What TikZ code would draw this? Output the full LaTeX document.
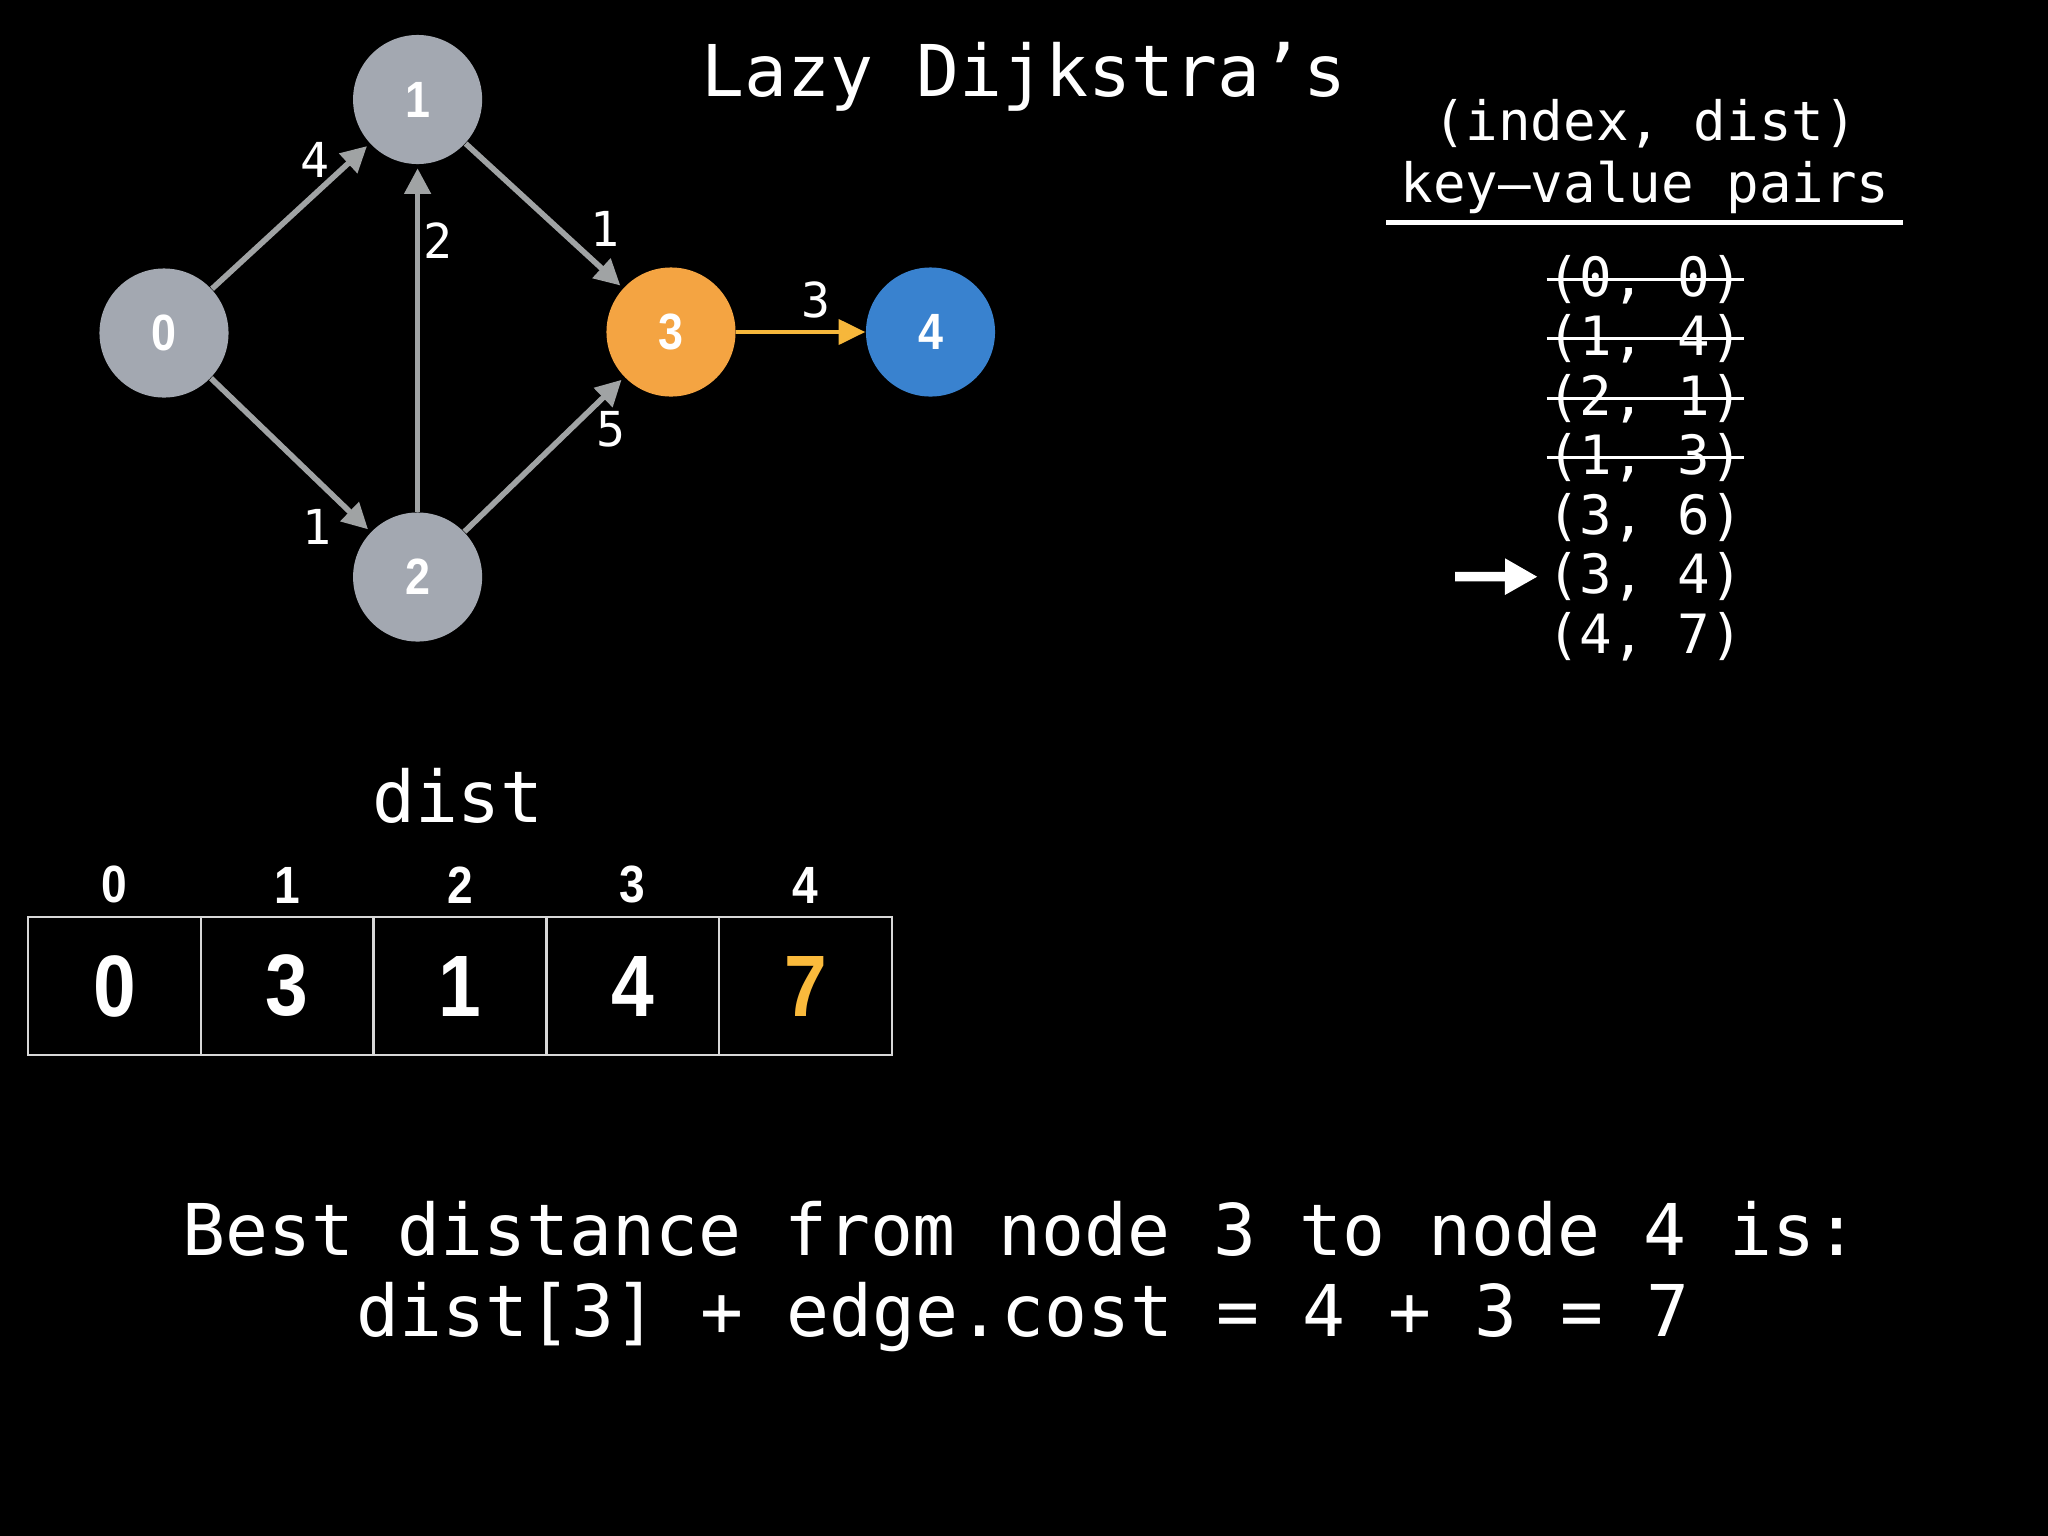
\documentclass[tikz,border=0pt]{standalone}
\usepackage{fontspec}
\usepackage{tikz}
\usetikzlibrary{arrows.meta,positioning,calc}
\usepackage{xcolor}
\newfontfamily\monofont{DejaVu Sans Mono}
\newfontfamily\numfont[FakeStretch=0.88]{Liberation Sans}
\newcommand{\bigmono}{\monofont\fontsize{20.3}{24}\selectfont}
\newcommand{\midmono}{\monofont\fontsize{15.4}{18}\selectfont}
\newcommand{\edgemono}{\monofont\fontsize{13.7}{16}\selectfont}
\newcommand{\vertexnum}{\numfont\bfseries\fontsize{14.5}{16}\selectfont}
\newcommand{\idxnum}{\numfont\bfseries\fontsize{14.9}{17}\selectfont}
\newcommand{\cellnum}{\numfont\bfseries\fontsize{24.8}{28}\selectfont}
\definecolor{nodegrey}{RGB}{163,168,177}
\definecolor{nodeorange}{RGB}{244,164,66}
\definecolor{nodeblue}{RGB}{57,130,207}
\definecolor{edgegrey}{RGB}{160,163,164}
\definecolor{edgeyellow}{RGB}{246,183,59}
\definecolor{sevenyellow}{RGB}{250,186,60}
\definecolor{cellline}{RGB}{215,215,215}

\begin{document}
\begin{tikzpicture}[
  x=0.01cm, y=-0.01cm,
  vertex/.style={circle, minimum size=1.29cm, inner sep=0pt, text=white, font=\vertexnum},
  edge/.style={-{Triangle[length=7.3pt,width=7.3pt]}, line width=1.6pt, edgegrey, shorten >=1pt},
  hotedge/.style={-{Triangle[length=7.6pt,width=7.1pt]}, line width=1.2pt, edgeyellow},
  wlabel/.style={text=white, font=\edgemono, inner sep=0pt},
  txt/.style={text=white, font=\bigmono, anchor=base, inner sep=0pt},
  pair/.style={text=white, font=\midmono, anchor=base, inner sep=0pt},
  strike/.style={white, line width=0.75pt},
  pointer/.style={-{Triangle[length=9.3pt,width=9.7pt]}, white, line width=2.7pt, shorten >=2.5pt},
  cell/.style={draw=cellline, line width=0.6pt, minimum width=1.728cm, minimum height=1.38cm, inner sep=0pt, font=\cellnum},
  idx/.style={text=white, font=\idxnum, inner sep=0pt}
]
\fill[black] (0,0) rectangle (2048,1536);
\useasboundingbox (0,0) rectangle (2048,1536);

% graph
\node[vertex, fill=nodegrey] (n0) at (164,333) {0};
\node[vertex, fill=nodegrey] (n1) at (417.6,99.5) {1};
\node[vertex, fill=nodegrey] (n2) at (417.6,577) {2};
\node[vertex, fill=nodeorange] (n3) at (671,332) {3};
\node[vertex, fill=nodeblue] (n4) at (930.5,332) {4};

\draw[edge] (n0) -- node[wlabel, pos=0.76, shift={(-17,-19)}] {4} (n1);
\draw[edge] (n0) -- node[wlabel, pos=0.81, shift={(-23,24)}] {1} (n2);
\draw[edge] (n2) -- node[wlabel, pos=0.78, shift={(20,0)}] {2} (n1);
\draw[edge] (n1) -- node[wlabel, pos=0.75, shift={(21,-23)}] {1} (n3);
\draw[edge] (n2) -- node[wlabel, pos=0.79, shift={(20,20)}] {5} (n3);
\draw[hotedge] (n3) -- node[wlabel, pos=0.62, shift={(0,-32)}] {3} (n4);

% title
\node[txt] (title) at (1024,96) {Lazy Dijkstra’s};

% priority queue
\node[pair] (hdr1) at (1645,140.5) {(index, dist)};
\node[pair] (hdr2) at (1645,202.5) {key–value pairs};
\draw[white, line width=1.4pt] (1386,222.7) -- (1903,222.7);

\foreach \a/\b [count=\k from 0] in {0/0,1/4,2/1,1/3,3/6,3/4,4/7}
  \node[pair] (p\k) at (1645,{296+59.5*\k}) {(\a, \b)};
\foreach \k in {0,...,3}
  \draw[strike] (p\k.west) -- (p\k.east);

\coordinate (ptr) at (1455,576.5);
\draw[pointer] (ptr) -- (p5.west);

% dist array
\node[txt] (distname) at (458,822) {dist};
\foreach \i/\v/\c in {0/0/white,1/3/white,2/1/white,3/4/white,4/7/sevenyellow} {
  \node[cell, text=\c] (d\i) at ({114.4+172.8*\i},986) {\v};
  \node[idx, above=0.12cm of d\i] (i\i) {\i};
}

% explanation
\node[txt] (best1) at (1020.5,1255) {Best distance from node 3 to node 4 is:};
\node[txt] (best2) at (1023,1336.7) {dist[3] + edge.cost = 4 + 3 = 7};

\end{tikzpicture}
\end{document}
